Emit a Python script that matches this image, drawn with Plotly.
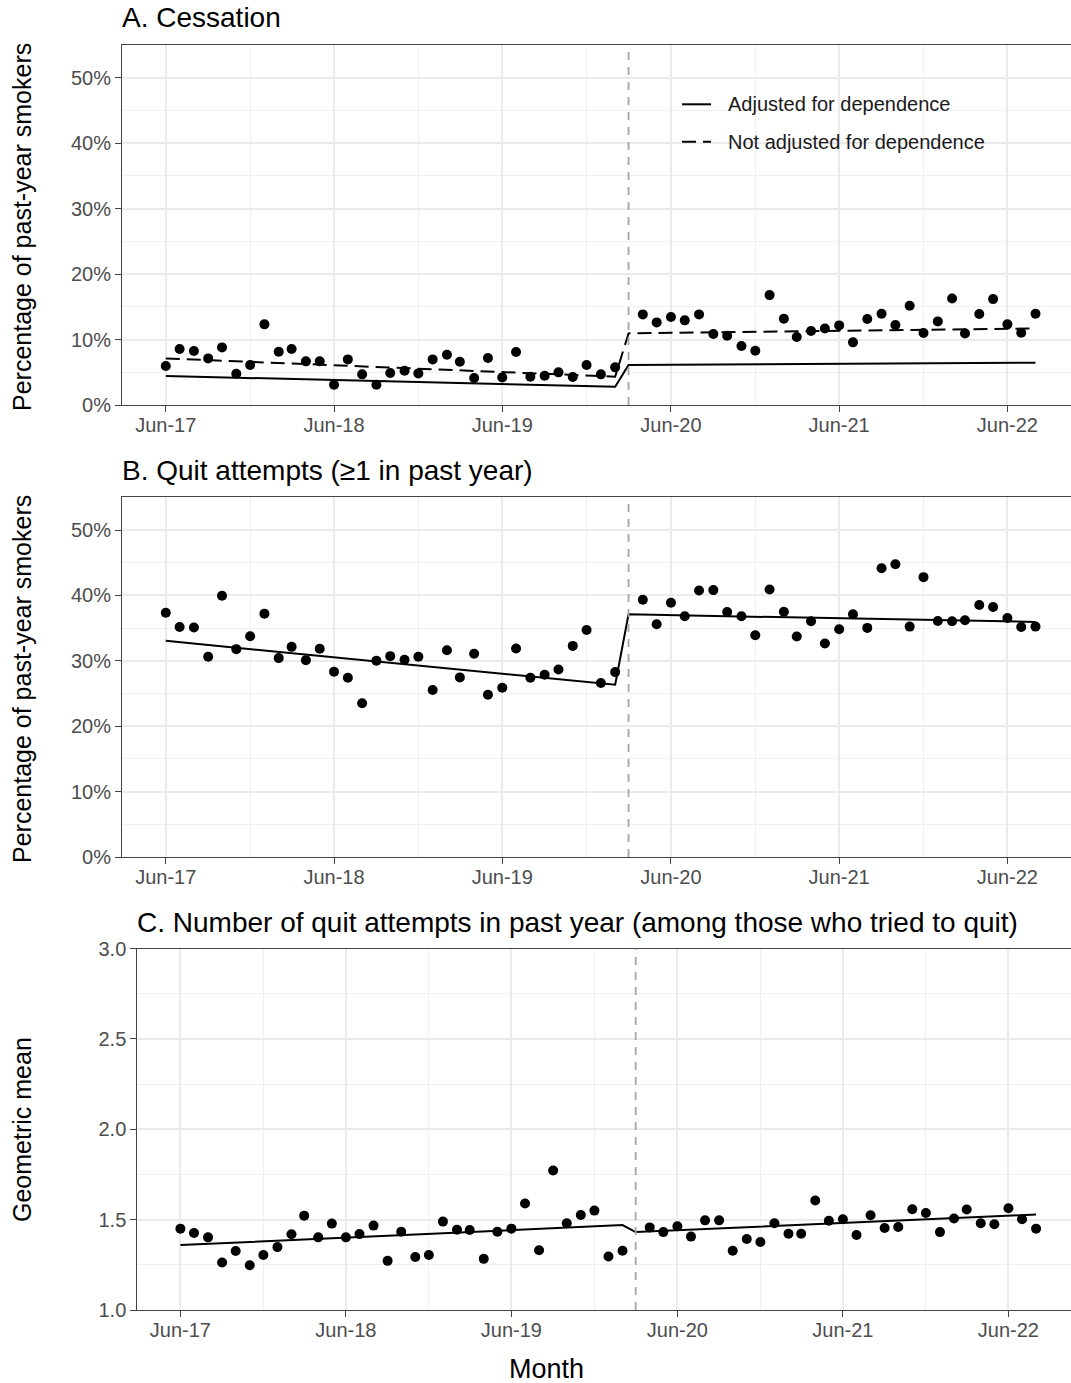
import plotly.graph_objects as go

W, H = 1071, 1383

months_pre = ["2017-06-01","2017-07-01","2017-08-01","2017-09-01","2017-10-01","2017-11-01","2017-12-01",
              "2018-01-01","2018-02-01","2018-03-01","2018-04-01","2018-05-01","2018-06-01","2018-07-01",
              "2018-08-01","2018-09-01","2018-10-01","2018-11-01","2018-12-01","2019-01-01","2019-02-01",
              "2019-03-01","2019-04-01","2019-05-01","2019-06-01","2019-07-01","2019-08-01","2019-09-01",
              "2019-10-01","2019-11-01","2019-12-01","2020-01-01","2020-02-01"]
months_post = ["2020-04-01","2020-05-01","2020-06-01","2020-07-01","2020-08-01","2020-09-01","2020-10-01",
               "2020-11-01","2020-12-01","2021-01-01","2021-02-01","2021-03-01","2021-04-01","2021-05-01",
               "2021-06-01","2021-07-01","2021-08-01","2021-09-01","2021-10-01","2021-11-01","2021-12-01",
               "2022-01-01","2022-02-01","2022-03-01","2022-04-01","2022-05-01","2022-06-01","2022-07-01",
               "2022-08-01"]
months = months_pre + months_post

# Trend-line breakpoints: start, last pre-lockdown month, lockdown month, end
trend_x = ["2017-06-01", "2020-02-01", "2020-03-01", "2022-08-01"]
lockdown = "2020-03-01"

# A. Cessation (% of past-year smokers)
cessation = [5.95, 8.55, 8.24, 7.12, 8.80, 4.78, 6.11, 12.32, 8.14, 8.55, 6.67, 6.67, 3.10, 6.97, 4.68,
             3.10, 4.89, 5.24, 4.83, 6.97, 7.68, 6.62, 4.12, 7.18, 4.22, 8.09, 4.33, 4.48, 4.99, 4.27,
             6.11, 4.68, 5.75,
             13.84, 12.62, 13.44, 12.93, 13.84, 10.84, 10.59, 9.01, 8.30, 16.79, 13.18, 10.38, 11.30,
             11.70, 12.16, 9.57, 13.13, 13.94, 12.21, 15.17, 10.99, 12.77, 16.28, 10.94, 13.89, 16.18,
             12.32, 11.04, 13.94]
cess_adj = [4.43, 2.80, 6.11, 6.46]
cess_unadj = [7.12, 4.33, 10.94, 11.70]

# B. Quit attempts (%)
quit_att = [37.36, 35.18, 35.08, 30.61, 39.95, 31.78, 33.76, 37.21, 30.41, 32.13, 30.10, 31.83, 28.32,
            27.41, 23.50, 30.00, 30.71, 30.15, 30.61, 25.53, 31.62, 27.46, 31.07, 24.82, 25.89, 31.88,
            27.41, 27.87, 28.68, 32.28, 34.72, 26.60, 28.27,
            39.34, 35.58, 38.88, 36.80, 40.76, 40.81, 37.46, 36.80, 33.91, 40.91, 37.51, 33.71, 36.04,
            32.64, 34.82, 37.11, 35.03, 44.16, 44.77, 35.23, 42.79, 36.09, 36.04, 36.19, 38.53, 38.22,
            36.55, 35.18, 35.23]
quit_fit = [33.05, 26.35, 37.10, 35.94]

# C. Number of quit attempts (geometric mean)
n_att = [1.450, 1.426, 1.402, 1.263, 1.326, 1.248, 1.304, 1.348, 1.419, 1.522, 1.402, 1.478, 1.402,
         1.420, 1.467, 1.272, 1.433, 1.293, 1.304, 1.489, 1.444, 1.443, 1.283, 1.433, 1.450, 1.589,
         1.331, 1.772, 1.480, 1.526, 1.550, 1.296, 1.328,
         1.457, 1.431, 1.463, 1.406, 1.496, 1.496, 1.328, 1.393, 1.376, 1.480, 1.422, 1.422, 1.606,
         1.494, 1.502, 1.415, 1.524, 1.454, 1.459, 1.557, 1.537, 1.431, 1.506, 1.556, 1.480, 1.474,
         1.563, 1.502, 1.450]
n_fit = [1.359, 1.470, 1.431, 1.528]

legend_labels = ["Adjusted for dependence", "Not adjusted for dependence"]

FONT = "Liberation Sans, Arial, sans-serif"
TICK = "#4D4D4D"
AX = "#444444"
DASH = "14px,7px"
GRID = "#EBEBEB"
MINOR = "#F0F0F0"

def py(px):
    return 1 - px / H

fig = go.Figure()
mk = dict(color="black", size=10)
ln = dict(color="black", width=2)

fig.add_trace(go.Scatter(x=months, y=cessation, mode="markers", marker=mk, showlegend=False,
                         xaxis="x", yaxis="y"))
fig.add_trace(go.Scatter(x=trend_x, y=cess_adj, mode="lines", line=ln, name=legend_labels[0],
                         showlegend=False, xaxis="x", yaxis="y"))
fig.add_trace(go.Scatter(x=trend_x, y=cess_unadj, mode="lines", line=dict(color="black", width=2, dash=DASH),
                         name=legend_labels[1], showlegend=False, xaxis="x", yaxis="y"))
fig.add_trace(go.Scatter(x=months, y=quit_att, mode="markers", marker=mk, showlegend=False,
                         xaxis="x2", yaxis="y2"))
fig.add_trace(go.Scatter(x=trend_x, y=quit_fit, mode="lines", line=ln, showlegend=False,
                         xaxis="x2", yaxis="y2"))
fig.add_trace(go.Scatter(x=months, y=n_att, mode="markers", marker=mk, showlegend=False,
                         xaxis="x3", yaxis="y3"))
fig.add_trace(go.Scatter(x=trend_x, y=n_fit, mode="lines", line=ln, showlegend=False,
                         xaxis="x3", yaxis="y3"))

xrange = ["2017-02-26", "2022-10-17"]
xcommon = dict(type="date", range=xrange, tick0="2017-06-01", dtick="M12", tickformat="%b-%y",
               showgrid=True, gridcolor=GRID, gridwidth=1.6,
               minor=dict(dtick="M6", tick0="2017-06-01", showgrid=True, gridcolor=MINOR, gridwidth=1),
               showline=True, linecolor=AX, linewidth=1, mirror=True, automargin=False,
               ticks="outside", ticklen=6, tickcolor=AX, tickwidth=1.2, ticklabelstandoff=-4,
               tickfont=dict(family=FONT, size=20, color=TICK), zeroline=False, fixedrange=True)
ycommon = dict(showgrid=True, gridcolor=GRID, gridwidth=1.6, automargin=False,
               showline=True, linecolor=AX, linewidth=1,
               ticks="outside", ticklen=6, tickcolor=AX, tickwidth=1.2,
               tickfont=dict(family=FONT, size=20, color=TICK), zeroline=False, fixedrange=True)

fig.update_layout(
    width=W, height=H, margin=dict(l=0, r=0, t=0, b=0, pad=0, autoexpand=False),
    paper_bgcolor="white", plot_bgcolor="white",
    font=dict(family=FONT, color="black"),
    xaxis=dict(xcommon, domain=[122 / W, 1], anchor="y"),
    yaxis=dict(ycommon, domain=[py(405), py(45)], anchor="x", range=[0, 55], dtick=10, tick0=0,
               ticksuffix="%", minor=dict(dtick=5, showgrid=True, gridcolor=MINOR, gridwidth=1)),
    xaxis2=dict(xcommon, domain=[122 / W, 1], anchor="y2"),
    yaxis2=dict(ycommon, domain=[py(857), py(497.3)], anchor="x2", range=[0, 55], dtick=10, tick0=0,
                ticksuffix="%", minor=dict(dtick=5, showgrid=True, gridcolor=MINOR, gridwidth=1)),
    xaxis3=dict(xcommon, domain=[137.3 / W, 1], anchor="y3"),
    yaxis3=dict(ycommon, domain=[py(1310), py(948.5)], anchor="x3", range=[1, 3], dtick=0.5, tick0=1,
                tickformat=".1f", minor=dict(dtick=0.25, showgrid=True, gridcolor=MINOR, gridwidth=1)),
    showlegend=False,
)

# lockdown vertical dashed line in each panel
for xa, ya in [("x", "y"), ("x2", "y2"), ("x3", "y3")]:
    fig.add_shape(type="line", xref=xa, yref=ya + " domain", x0=lockdown, x1=lockdown, y0=0, y1=1,
                  line=dict(color="#A6A6A6", width=1.8, dash="8px,7px"), layer="above")

# legend (drawn as in ggplot: white key box with line samples)
fig.add_shape(type="rect", xref="paper", yref="paper", x0=667 / W, x1=1013 / W, y0=py(160), y1=py(86),
              fillcolor="white", line=dict(width=0), layer="below")
fig.add_shape(type="line", xref="paper", yref="paper", x0=682 / W, x1=711 / W, y0=py(104.3), y1=py(104.3),
              line=dict(color="black", width=2))
fig.add_shape(type="line", xref="paper", yref="paper", x0=682 / W, x1=711 / W, y0=py(141.7), y1=py(141.7),
              line=dict(color="black", width=2, dash=DASH))

def ann(text, x, y, size, xanchor="left", angle=0, color="black"):
    fig.add_annotation(text=text, xref="paper", yref="paper", x=x / W, y=py(y), showarrow=False,
                       xanchor=xanchor, yanchor="middle", textangle=angle,
                       font=dict(family=FONT, size=size, color=color))

ann(legend_labels[0], 726, 104.3, 20, color="#1A1A1A")
ann(legend_labels[1], 726, 141.7, 20, color="#1A1A1A")
ann("A. Cessation", 120, 18, 28)
ann("B. Quit attempts (≥1 in past year)", 120, 470, 28)
ann("C. Number of quit attempts in past year (among those who tried to quit)", 135, 922, 28)
ann("Percentage of past-year smokers", 22, 227, 25, xanchor="center", angle=-90)
ann("Percentage of past-year smokers", 22, 679, 25, xanchor="center", angle=-90)
ann("Geometric mean", 22, 1130, 25, xanchor="center", angle=-90)
ann("Month", 546, 1369, 27, xanchor="center")

fig.write_html("out.html", config={"displayModeBar": False},
               post_script="document.body.style.margin='0';")
